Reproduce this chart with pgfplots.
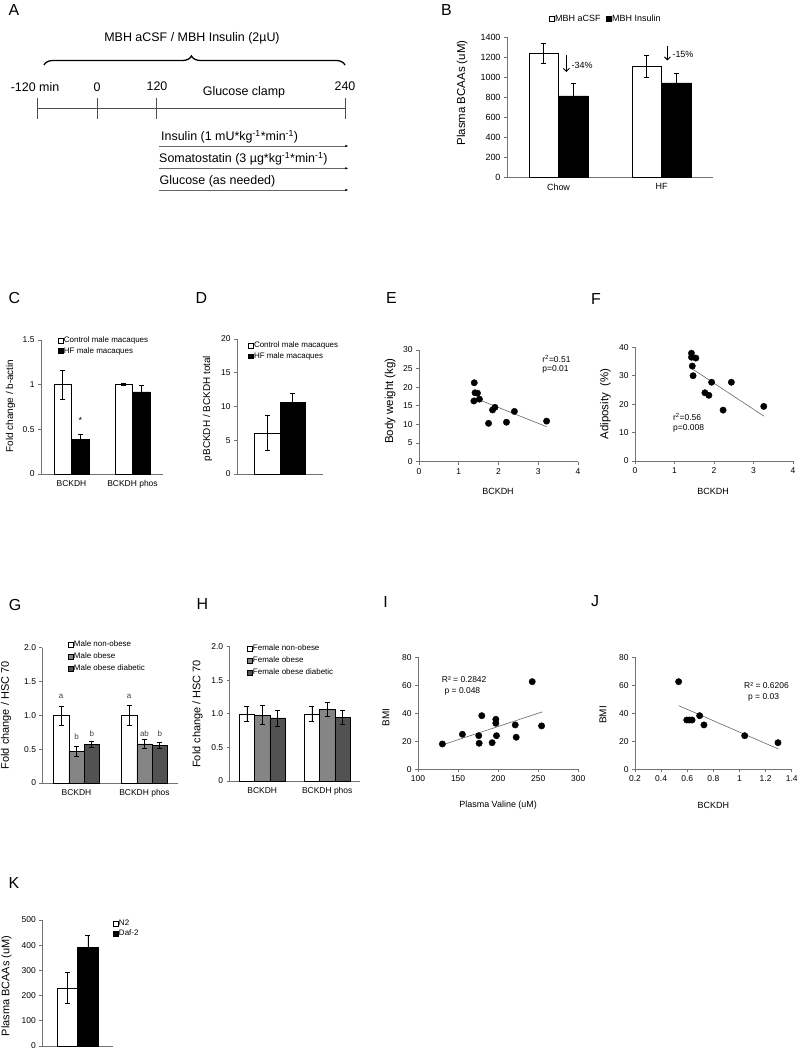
\documentclass[border=0pt]{standalone}
\usepackage{fontspec}
\setmainfont{Liberation Sans}
\usepackage{pgfplots}
\pgfplotsset{compat=1.18}
\usetikzlibrary{arrows.meta,decorations.pathreplacing}
\newcommand{\fs}[1]{\fontsize{#1}{#1}\selectfont}
\pgfplotsset{
 base/.style={
  scale only axis, anchor=south west, clip=false, enlargelimits=false,
  axis x line=bottom, axis y line=left,
  axis line style={-, black!55, line width=0.9bp},
  tick style={black!55, line width=0.7bp},
  tick align=outside, major tick length=3bp,
  tick label style={font=\fs{8.5}},
  /pgf/number format/assume math mode=true,
  /pgf/number format/1000 sep={},
  ylabel style={font=\fs{10.5}, anchor=center},
  xlabel style={font=\fs{9}, anchor=center},
  error bars/error bar style={black, line width=0.6bp},
  error bars/error mark options={rotate=90, mark size=2.5bp, black, line width=0.6bp},
  legend style={draw=none, fill=none, font=\fs{8}, inner sep=0pt, nodes={inner sep=0.8bp}, row sep=1.5bp, cells={anchor=west}},
  legend image code/.code={\draw[##1] (0bp,-2.3bp) rectangle (4.6bp,2.3bp);},
 },
 barax/.style={base, xtick style={draw=none}},
 scat/.style={only marks, mark=*, mark size=3.2bp, black},
 trend/.style={no markers, black!60, line width=0.6bp},
 ebar/.style={ybar, bar shift=0, error bars/.cd, y dir=both, y explicit},
}
\begin{document}
\begin{tikzpicture}
\path[use as bounding box] (0,0) rectangle (801bp,1050bp);

% ---------------- Panel letters ----------------
\begin{scope}[font=\fs{16}]
\node at (14bp,1040bp) {A};
\node at (446.5bp,1040bp) {B};
\node at (14.5bp,751.5bp) {C};
\node at (201.5bp,751.5bp) {D};
\node at (391.5bp,751.5bp) {E};
\node at (596bp,751bp) {F};
\node at (15bp,445bp) {G};
\node at (202.5bp,446bp) {H};
\node at (385.5bp,447.5bp) {I};
\node at (595bp,448.5bp) {J};
\node at (14bp,167bp) {K};
\end{scope}

% ---------------- Panel A (schematic) ----------------
\begin{scope}[font=\fs{12.5}]
\node at (192bp,1012bp) {MBH aCSF / MBH Insulin (2µU)};
\draw[decorate, decoration={brace, amplitude=9bp, aspect=0.49}, line width=1.3bp] (44bp,985bp) -- (345bp,985bp);
\node at (35bp,963bp) {-120 min};
\node at (97bp,963bp) {0};
\node at (157bp,964bp) {120};
\node at (244bp,958bp) {Glucose clamp};
\node at (345bp,964bp) {240};
\draw[black!70, line width=0.9bp] (37.7bp,941.7bp) -- (345.3bp,941.7bp);
\foreach \tx in {37.7,97.3,156.3,345.3} \draw[black!70, line width=0.9bp] (\tx bp,931bp) -- (\tx bp,952.3bp);
\node[anchor=west, inner sep=0pt] at (161bp,913.3bp) {Insulin (1 mU*kg\textsuperscript{-1}*min\textsuperscript{-1})};
\draw[black!60, line width=0.8bp, -{Latex[length=3bp, width=2.5bp, black]}] (159.3bp,904bp) -- (348.3bp,904bp);
\node[anchor=west, inner sep=0pt] at (159bp,891bp) {Somatostatin (3 µg*kg\textsuperscript{-1}*min\textsuperscript{-1})};
\draw[black!60, line width=0.8bp, -{Latex[length=3bp, width=2.5bp, black]}] (159.3bp,881.7bp) -- (348.3bp,881.7bp);
\node[anchor=west, inner sep=0pt] at (159.5bp,868.3bp) {Glucose (as needed)};
\draw[black!60, line width=0.8bp, -{Latex[length=3bp, width=2.5bp, black]}] (159.3bp,860bp) -- (348.3bp,860bp);
\end{scope}

% ---------------- Panel B ----------------
\begin{axis}[barax, at={(507bp,873bp)}, width=206bp, height=140bp,
  xmin=-0.5, xmax=1.5, ymin=0, ymax=1400, ytick={0,200,...,1400},
  xtick={0,1}, xticklabels={Chow,HF}, x tick label style={font=\fs{9}},
  tick label style={font=\fs{9}},
  ylabel={Plasma BCAAs (uM)}, ylabel style={at={(axis description cs:-0.218,0.6)}, font=\fs{11.5}},
  bar width=0.288,
  legend columns=2,
  legend style={at={(axis description cs:0.205,1.129)}, anchor=west, font=\fs{9}, /tikz/every even column/.append style={column sep=5bp}}]
\addplot[fill=white, draw=black, ebar] coordinates {(-0.144,1235) +- (0,100) (0.856,1110) +- (0,110)};
\addlegendentry{MBH aCSF}
\addplot[fill=black, draw=black, ebar] coordinates {(0.144,810) +- (0,125) (1.144,940) +- (0,100)};
\addlegendentry{MBH Insulin}
\draw[black, line width=0.9bp, -{Straight Barb[length=3bp]}] (axis cs:0.077,1215) -- (axis cs:0.077,1050);
\node[anchor=west, font=\fs{9}, inner sep=0pt] at (axis cs:0.125,1120) {-34\%};
\draw[black, line width=0.9bp, -{Straight Barb[length=3bp]}] (axis cs:1.058,1310) -- (axis cs:1.058,1165);
\node[anchor=west, font=\fs{9}, inner sep=0pt] at (axis cs:1.105,1230) {-15\%};
\end{axis}

% ---------------- Panel C ----------------
\begin{axis}[barax, at={(41bp,576bp)}, width=122bp, height=134bp,
  xmin=-0.5, xmax=1.5, ymin=0, ymax=1.5, ytick={0,0.5,1,1.5}, yticklabels={0,0.5,1,1.5},
  xtick={0,1}, xticklabels={BCKDH,BCKDH phos},
  ylabel={Fold change / b-actin}, ylabel style={at={(axis description cs:-0.25,0.507)}, font=\fs{10}},
  bar width=0.287,
  legend style={at={(axis description cs:0.139,1.03)}, anchor=north west}]
\addplot[fill=white, draw=black, ebar] coordinates {(-0.1435,1.0) +- (0,0.16) (0.8565,1.0) +- (0,0.01)};
\addlegendentry{Control male macaques}
\addplot[fill=black, draw=black, ebar] coordinates {(0.1435,0.39) +- (0,0.05) (1.1435,0.92) +- (0,0.07)};
\addlegendentry{HF male macaques}
\node[font=\fs{9}] at (axis cs:0.1435,0.6) {*};
\end{axis}

% ---------------- Panel D ----------------
\begin{axis}[barax, at={(237bp,576bp)}, width=86bp, height=135bp,
  xmin=-0.5, xmax=0.5, ymin=0, ymax=20, ytick={0,5,...,20}, xtick=\empty,
  ylabel={pBCKDH / BCKDH total}, ylabel style={at={(axis description cs:-0.343,0.485)}, font=\fs{10}},
  bar width=0.296,
  legend style={at={(axis description cs:0.128,0.985)}, anchor=north west}]
\addplot[fill=white, draw=black, ebar] coordinates {(-0.148,6.1) +- (0,2.55)};
\addlegendentry{Control male macaques}
\addplot[fill=black, draw=black, ebar] coordinates {(0.148,10.7) +- (0,1.3)};
\addlegendentry{HF male macaques}
\end{axis}

% ---------------- Panel E ----------------
\begin{axis}[base, at={(419bp,588.3bp)}, width=159bp, height=111.7bp,
  xmin=0, xmax=4, ymin=0, ymax=30, xtick={0,1,2,3,4}, ytick={0,5,...,30},
  xlabel={BCKDH}, xlabel style={at={(axis description cs:0.497,-0.262)}},
  ylabel={Body weight (kg)}, ylabel style={at={(axis description cs:-0.182,0.543)}, font=\fs{11.5}}]
\addplot[trend] coordinates {(1.38,17.2) (3.21,9.4)};
\addplot[scat] coordinates {(1.39,21.2) (1.41,18.5) (1.47,18.4) (1.38,16.3) (1.52,16.8) (1.75,10.3) (1.85,13.9) (1.91,14.6) (2.20,10.6) (2.40,13.5) (3.21,10.9)};
\node[anchor=west, font=\fs{8.5}, inner sep=0pt] at (axis cs:3.1,27.6) {r\textsuperscript{2}=0.51};
\node[anchor=west, font=\fs{8.5}, inner sep=0pt] at (axis cs:3.1,24.7) {p=0.01};
\end{axis}

% ---------------- Panel F ----------------
\begin{axis}[base, at={(635bp,589bp)}, width=158bp, height=113.7bp,
  xmin=0, xmax=4, ymin=0, ymax=40, xtick={0,1,2,3,4}, ytick={0,10,...,40},
  xlabel={BCKDH}, xlabel style={at={(axis description cs:0.494,-0.264)}},
  ylabel={Adiposity \ (\%)}, ylabel style={at={(axis description cs:-0.187,0.5)}, font=\fs{11.5}}]
\addplot[trend] coordinates {(1.43,32.6) (3.26,15.8)};
\addplot[scat] coordinates {(1.43,37.9) (1.43,36.5) (1.54,36.2) (1.45,33.4) (1.47,30.0) (1.94,27.7) (1.77,24.0) (1.87,23.1) (2.23,17.9) (2.44,27.7) (3.26,19.2)};
\node[anchor=west, font=\fs{8.5}, inner sep=0pt] at (axis cs:0.96,15.5) {r\textsuperscript{2}=0.56};
\node[anchor=west, font=\fs{8.5}, inner sep=0pt] at (axis cs:0.96,11.6) {p=0.008};
\end{axis}

% ---------------- Panel G ----------------
\begin{axis}[barax, at={(42.5bp,267bp)}, width=136bp, height=135.3bp,
  xmin=-0.5, xmax=1.5, ymin=0, ymax=2, ytick={0,0.5,1,1.5,2}, yticklabels={0,0.5,1.0,1.5,2.0},
  xtick={0,1}, xticklabels={BCKDH,BCKDH phos},
  ylabel={Fold change / HSC 70}, ylabel style={at={(axis description cs:-0.268,0.5)}, font=\fs{11}},
  bar width=0.225,
  legend style={at={(axis description cs:0.1875,1.057)}, anchor=north west, row sep=3.2bp}]
\addplot[fill=white, draw=black, ebar] coordinates {(-0.225,1.0) +- (0,0.14) (0.775,1.0) +- (0,0.15)};
\addlegendentry{Male non-obese}
\addplot[fill=black!48, draw=black, ebar] coordinates {(0,0.47) +- (0,0.07) (1,0.58) +- (0,0.07)};
\addlegendentry{Male obese}
\addplot[fill=black!68, draw=black, ebar] coordinates {(0.225,0.57) +- (0,0.04) (1.225,0.56) +- (0,0.045)};
\addlegendentry{Male obese diabetic}
\begin{scope}[font=\fs{8}, text=black!75]
\node at (axis cs:-0.225,1.275) {a};
\node at (axis cs:0,0.684) {b};
\node at (axis cs:0.225,0.734) {b};
\node at (axis cs:0.775,1.275) {a};
\node at (axis cs:1,0.734) {ab};
\node at (axis cs:1.225,0.734) {b};
\end{scope}
\end{axis}

% ---------------- Panel H ----------------
\begin{axis}[barax, at={(229.7bp,269bp)}, width=130bp, height=134.3bp,
  xmin=-0.5, xmax=1.5, ymin=0, ymax=2, ytick={0,0.5,1,1.5,2}, yticklabels={0,0.5,1.0,1.5,2.0},
  xtick={0,1}, xticklabels={BCKDH,BCKDH phos},
  ylabel={Fold change / HSC 70}, ylabel style={at={(axis description cs:-0.248,0.5)}, font=\fs{11}},
  bar width=0.234,
  legend style={at={(axis description cs:0.133,1.02)}, anchor=north west, row sep=3.2bp}]
\addplot[fill=white, draw=black, ebar] coordinates {(-0.234,1.0) +- (0,0.11) (0.766,1.0) +- (0,0.11)};
\addlegendentry{Female non-obese}
\addplot[fill=black!48, draw=black, ebar] coordinates {(0,0.98) +- (0,0.14) (1,1.07) +- (0,0.10)};
\addlegendentry{Female obese}
\addplot[fill=black!68, draw=black, ebar] coordinates {(0.234,0.94) +- (0,0.12) (1.234,0.95) +- (0,0.11)};
\addlegendentry{Female obese diabetic}
\end{axis}

% ---------------- Panel I ----------------
\begin{axis}[base, at={(418bp,280.7bp)}, width=160.3bp, height=112bp,
  xmin=100, xmax=300, ymin=0, ymax=80, xtick={100,150,...,300}, ytick={0,20,...,80},
  xlabel={Plasma Valine (uM)}, xlabel style={at={(axis description cs:0.5,-0.319)}},
  ylabel={BMI}, ylabel style={at={(axis description cs:-0.2,0.46)}, font=\fs{10}}]
\addplot[trend] coordinates {(130.4,17.4) (255,41)};
\addplot[scat] coordinates {(130.4,18.1) (155.4,25.0) (175.8,24.0) (176.3,18.6) (179.6,38.3) (192.5,19.0) (197.1,35.7) (197.1,32.9) (197.9,24.0) (221.3,31.7) (222.5,22.9) (242.5,62.6) (254.2,31.0)};
\node[anchor=west, font=\fs{8.5}, inner sep=0pt] at (axis cs:129.6,63.8) {R² = 0.2842};
\node[anchor=west, font=\fs{8.5}, inner sep=0pt] at (axis cs:133,55.4) {p = 0.048};
\end{axis}

% ---------------- Panel J ----------------
\begin{axis}[base, at={(635bp,280.7bp)}, width=156.7bp, height=112bp,
  xmin=0.2, xmax=1.4, ymin=0, ymax=80, xtick={0.2,0.4,0.6,0.8,1,1.2,1.4}, xticklabels={0.2,0.4,0.6,0.8,1,1.2,1.4},
  ytick={0,20,...,80},
  xlabel={BCKDH}, xlabel style={at={(axis description cs:0.5,-0.319)}},
  ylabel={BMI}, ylabel style={at={(axis description cs:-0.204,0.486)}, font=\fs{10}}]
\addplot[trend] coordinates {(0.534,45.5) (1.298,14.5)};
\addplot[scat] coordinates {(0.534,62.6) (0.596,35.2) (0.616,35.2) (0.637,35.2) (0.695,38.3) (0.728,31.7) (1.04,24.0) (1.295,19.0)};
\node[anchor=west, font=\fs{8.5}, inner sep=0pt] at (axis cs:1.035,60) {R² = 0.6206};
\node[anchor=west, font=\fs{8.5}, inner sep=0pt] at (axis cs:1.065,51.4) {p = 0.03};
\end{axis}

% ---------------- Panel K ----------------
\begin{axis}[barax, at={(42.3bp,4bp)}, width=70.7bp, height=126bp,
  xmin=-0.5, xmax=0.5, ymin=0, ymax=500, ytick={0,100,...,500}, xtick=\empty,
  ylabel={Plasma BCAAs (uM)}, ylabel style={at={(axis description cs:-0.506,0.476)}, font=\fs{11}},
  bar width=0.29,
  legend style={at={(axis description cs:1.0,1.008)}, anchor=north west}]
\addplot[fill=white, draw=black, ebar] coordinates {(-0.145,231) +- (0,63)};
\addlegendentry{N2}
\addplot[fill=black, draw=black, ebar] coordinates {(0.145,394) +- (0,46)};
\addlegendentry{Daf-2}
\end{axis}
\end{tikzpicture}
\end{document}
